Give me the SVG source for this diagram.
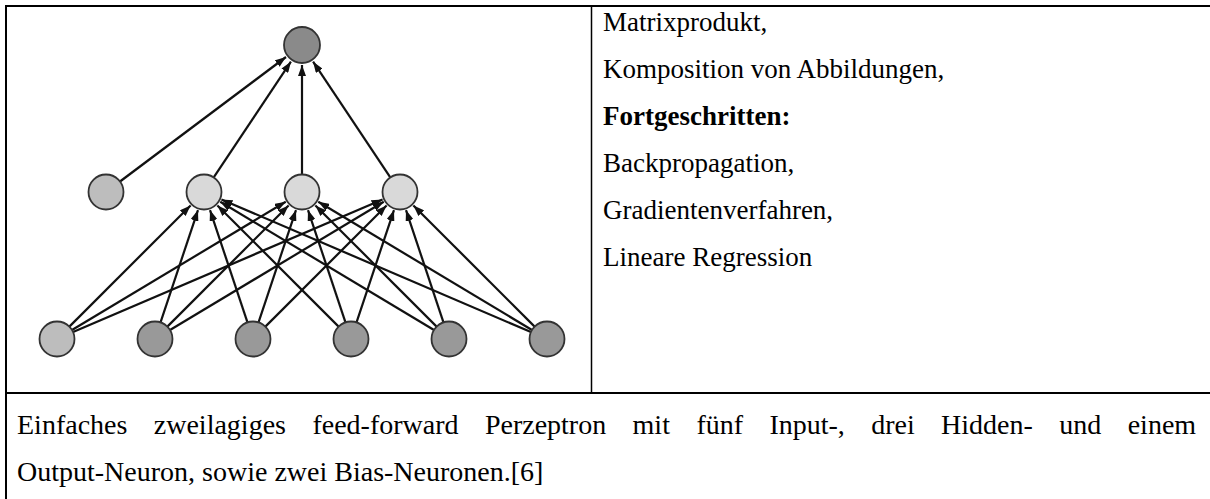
<svg xmlns="http://www.w3.org/2000/svg" width="1210" height="499" viewBox="0 0 1210 499">
<style>
.t{font-family:"Liberation Serif","Times New Roman",serif;font-size:27px;fill:#000}
.c{font-size:28px}
.b{font-weight:bold}
.tbl{stroke:#000;fill:none}
.n{stroke:#333;stroke-width:1.8}
.out{fill:#8a8a8a}
.bias{fill:#bdbdbd}
.hid{fill:#d9d9d9}
.inp{fill:#999}
.e{stroke:#111;stroke-width:2.2;fill:none;marker-end:url(#ah)}
</style>
<defs>
<marker id="ah" viewBox="0 0 11 8" markerUnits="userSpaceOnUse" markerWidth="11" markerHeight="8" refX="11" refY="4" orient="auto">
<path d="M0,0 L11,4 L0,8 z" fill="#111"/>
</marker>
</defs>
<rect width="1210" height="499" fill="#fff"/>
<g id="table">
<line class="tbl" x1="6" y1="5" x2="6" y2="499" stroke-width="2"/>
<line class="tbl" x1="5" y1="6" x2="1210" y2="6" stroke-width="2"/>
<line class="tbl" x1="591.5" y1="6" x2="591.5" y2="393" stroke-width="1.5"/>
<line class="tbl" x1="5" y1="393" x2="1210" y2="393" stroke-width="2"/>
</g>
<g id="connectors">
<line class="e" x1="69.37" y1="326.63" x2="190.57" y2="205.43"/>
<line class="e" x1="72.01" y1="330" x2="285.71" y2="201.78"/>
<line class="e" x1="73.08" y1="332.11" x2="382.54" y2="199.48"/>
<line class="e" x1="160.53" y1="322.4" x2="197.99" y2="210.03"/>
<line class="e" x1="167.37" y1="326.63" x2="288.57" y2="205.43"/>
<line class="e" x1="170.01" y1="330" x2="383.71" y2="201.78"/>
<line class="e" x1="247.47" y1="322.4" x2="210.01" y2="210.03"/>
<line class="e" x1="258.53" y1="322.4" x2="295.99" y2="210.03"/>
<line class="e" x1="265.37" y1="326.63" x2="386.57" y2="205.43"/>
<line class="e" x1="338.63" y1="326.63" x2="217.43" y2="205.43"/>
<line class="e" x1="345.47" y1="322.4" x2="308.01" y2="210.03"/>
<line class="e" x1="356.53" y1="322.4" x2="393.99" y2="210.03"/>
<line class="e" x1="433.99" y1="330" x2="220.29" y2="201.78"/>
<line class="e" x1="436.63" y1="326.63" x2="315.43" y2="205.43"/>
<line class="e" x1="443.47" y1="322.4" x2="406.01" y2="210.03"/>
<line class="e" x1="530.92" y1="332.11" x2="221.46" y2="199.48"/>
<line class="e" x1="531.99" y1="330" x2="318.29" y2="201.78"/>
<line class="e" x1="534.63" y1="326.63" x2="413.43" y2="205.43"/>
<line class="e" x1="120" y1="181.5" x2="286" y2="57"/>
<line class="e" x1="213.71" y1="177.44" x2="290.91" y2="61.64"/>
<line class="e" x1="302" y1="174.5" x2="302" y2="65"/>
<line class="e" x1="390.29" y1="177.44" x2="313.09" y2="61.64"/>
</g>
<g id="output"><circle class="n out" cx="302" cy="45" r="18"/></g>
<g id="bias-hidden"><circle class="n bias" cx="106" cy="192" r="17.5"/></g>
<g id="hidden-1"><circle class="n hid" cx="204" cy="192" r="17.5"/></g>
<g id="hidden-2"><circle class="n hid" cx="302" cy="192" r="17.5"/></g>
<g id="hidden-3"><circle class="n hid" cx="400" cy="192" r="17.5"/></g>
<g id="bias-input"><circle class="n bias" cx="57" cy="339" r="17.5"/></g>
<g id="input-1"><circle class="n inp" cx="155" cy="339" r="17.5"/></g>
<g id="input-2"><circle class="n inp" cx="253" cy="339" r="17.5"/></g>
<g id="input-3"><circle class="n inp" cx="351" cy="339" r="17.5"/></g>
<g id="input-4"><circle class="n inp" cx="449" cy="339" r="17.5"/></g>
<g id="input-5"><circle class="n inp" cx="547" cy="339" r="17.5"/></g>
<g id="topics">
<text class="t" x="603" y="31">Matrixprodukt,</text>
<text class="t" x="603" y="78">Komposition von Abbildungen,</text>
<text class="t b" x="603" y="125">Fortgeschritten:</text>
<text class="t" x="603" y="172">Backpropagation,</text>
<text class="t" x="603" y="219">Gradientenverfahren,</text>
<text class="t" x="603" y="266">Lineare Regression</text>
</g>
<g id="caption">
<text class="t c" y="434"><tspan x="17">Einfaches</tspan><tspan x="153.8">zweilagiges</tspan><tspan x="312.4">feed-forward</tspan><tspan x="484.9">Perzeptron</tspan><tspan x="632.6">mit</tspan><tspan x="696.4">fünf</tspan><tspan x="769.4">Input-,</tspan><tspan x="871.2">drei</tspan><tspan x="941.1">Hidden-</tspan><tspan x="1059.3">und</tspan><tspan x="1127.7">einem</tspan></text>
<text class="t c" x="17" y="481">Output-Neuron, sowie zwei Bias-Neuronen.[6]</text>
</g>
</svg>
